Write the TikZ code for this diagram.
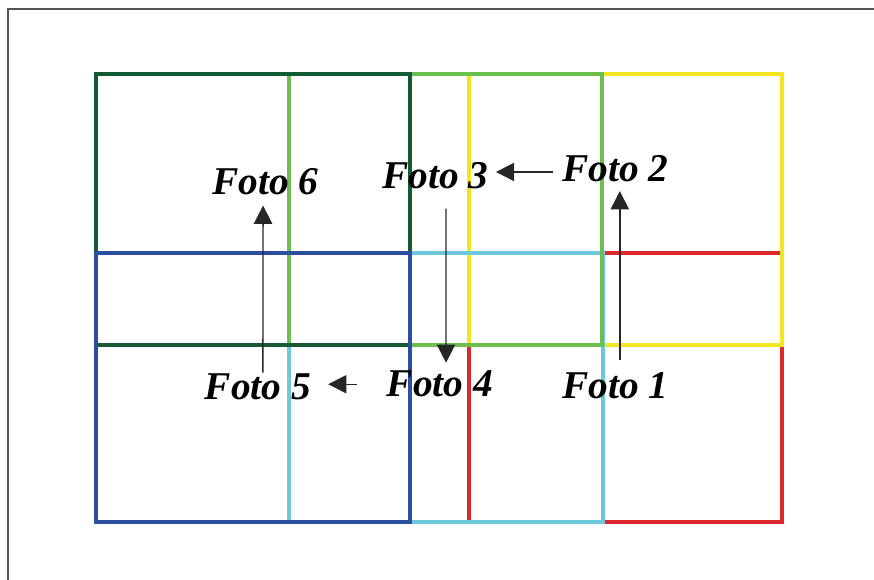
\documentclass[tikz,border=0pt]{standalone}
\usepackage{fontspec}
\setmainfont{Liberation Serif}
\usetikzlibrary{arrows.meta}
\definecolor{rahmengrau}{HTML}{555555}
\definecolor{fotorot}{HTML}{DC282D}
\definecolor{fotogelb}{HTML}{F4E521}
\definecolor{fotocyan}{HTML}{6EC8DC}
\definecolor{fotohellgruen}{HTML}{6CBE4F}
\definecolor{fotodunkelgruen}{HTML}{145A32}
\definecolor{fotoblau}{HTML}{2B50A0}

\begin{document}
\begin{tikzpicture}[
  bild/.style={line width=2.6pt},
  beschr/.style={font=\fontsize{28}{30}\selectfont\bfseries\itshape, inner sep=0pt, anchor=base},
  pfeil/.style={line width=1pt, draw=black!85, -{Triangle[length=13pt,width=13pt]}}
]
  \useasboundingbox (0,0) rectangle (21.85,14.5);
  % Rahmen (nur oben und links sichtbar)
  \draw[rahmengrau, line width=1.5pt] (0.2,0) -- (0.2,14.275) -- (21.85,14.275);
  % Bildausschnitte, in dieser Reihenfolge uebereinander
  \draw[bild,fotorot] (11.725,1.45) rectangle (19.55,8.175);
  \draw[bild,fotogelb] (11.725,5.875) rectangle (19.55,12.65);
  \draw[bild,fotocyan] (7.225,1.45) rectangle (15.075,8.175);
  \draw[bild,fotohellgruen] (7.225,5.875) rectangle (15.05,12.65);
  \draw[bild,fotodunkelgruen] (2.4,5.875) rectangle (10.25,12.65);
  \draw[bild,fotoblau] (2.4,1.45) rectangle (10.25,8.175);
  % Beschriftungen
  \node[beschr] (f1) at (15.39,4.525) {Foto 1};
  \node[beschr] (f2) at (15.39,9.95) {Foto 2};
  \node[beschr] (f3) at (10.89,9.775) {Foto 3};
  \node[beschr] (f4) at (11.0,4.575) {Foto 4};
  \node[beschr] (f5) at (6.45,4.5) {Foto 5};
  \node[beschr] (f6) at (6.64,9.625) {Foto 6};
  % Reihenfolge der Aufnahmen
  \draw[pfeil,shorten <=9pt,shorten >=6pt] ([xshift=3pt]f1.north) -- ([xshift=3pt]f2.south);
  \draw[pfeil,shorten <=6.5pt,shorten >=5pt] ([yshift=-2pt]f2.west) -- ([yshift=-2pt]f3.east |- f2.west);
  \draw[pfeil,shorten <=13.5pt,shorten >=5.7pt] ([xshift=7.4pt]f3.south) -- ([xshift=4.3pt]f4.north);
  \draw[pfeil,shorten <=21pt,shorten >=12pt] (f4.west) -- (f5.east |- f4.west);
  \draw[pfeil,shorten <=1pt,shorten >=7pt] ([xshift=3.5pt]f5.north) -- ([xshift=-1.8pt]f6.south);
\end{tikzpicture}
\end{document}
